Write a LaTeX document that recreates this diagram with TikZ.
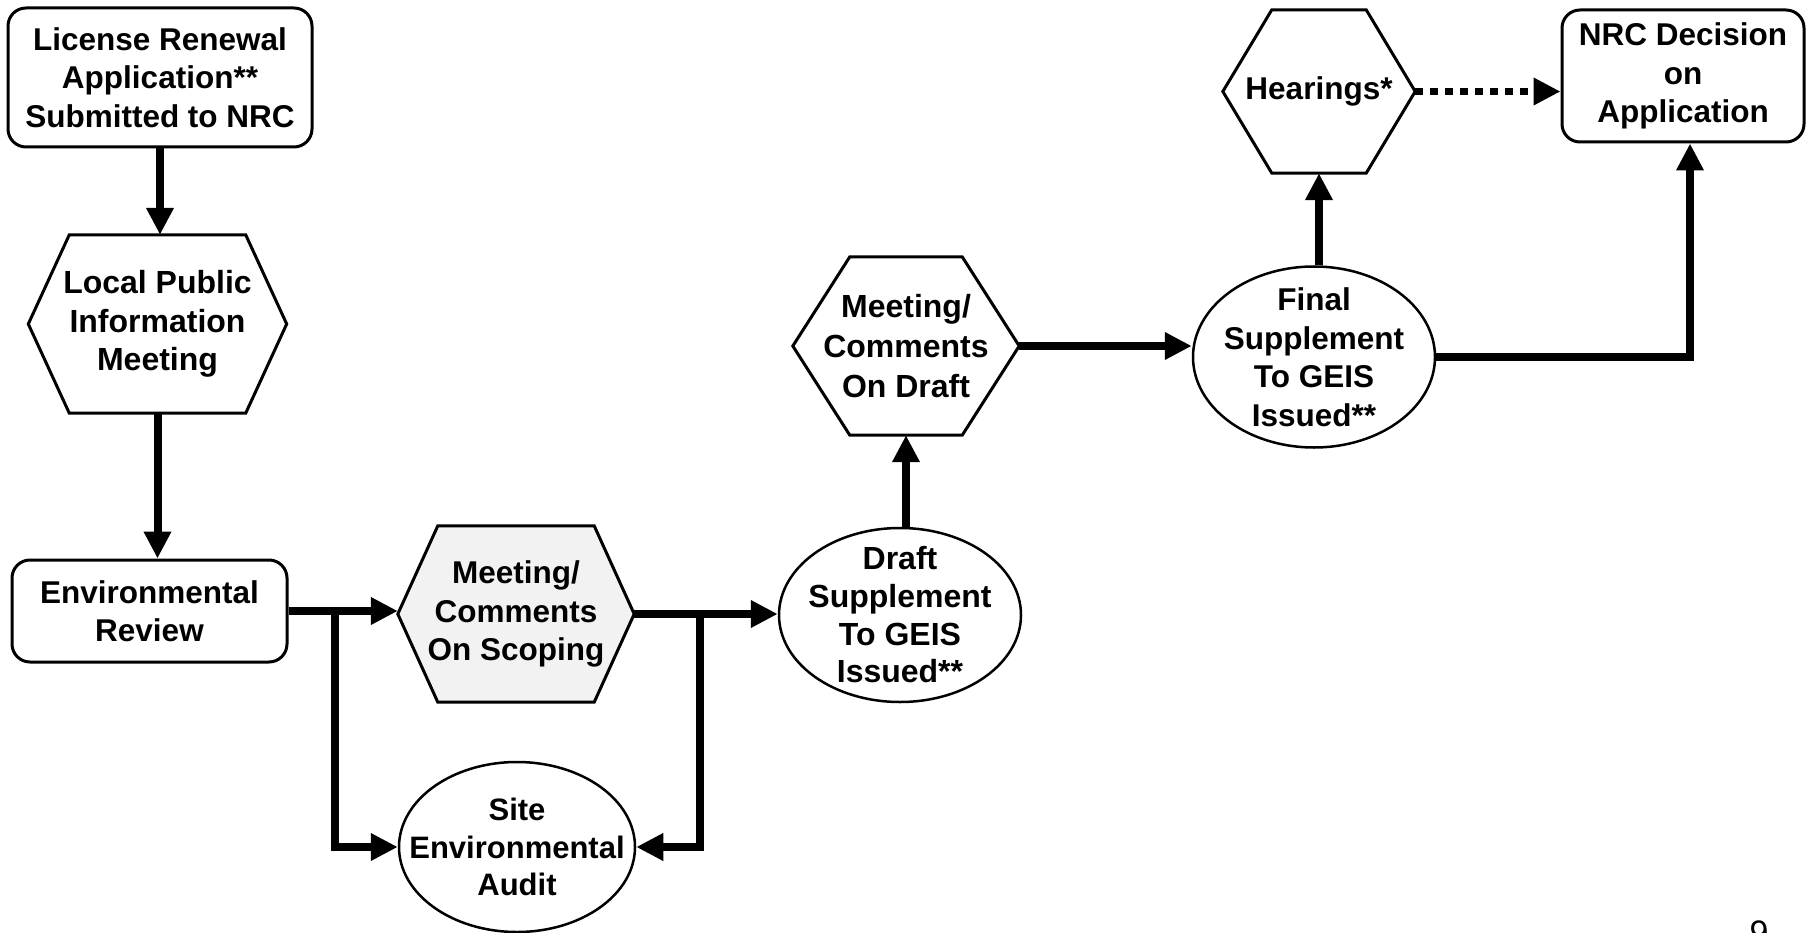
\documentclass[tikz,border=0pt]{standalone}
\usepackage{fontspec}
\setmainfont{Liberation Sans}
\usetikzlibrary{arrows.meta,calc,shapes.geometric,backgrounds}

\newcommand\hexagonof[3][]{%
  \draw[hexframe,#1] ($(#2.north west)+(#3,0)$) -- ($(#2.north east)+(-#3,0)$) -- (#2.east)
    -- ($(#2.south east)+(-#3,0)$) -- ($(#2.south west)+(#3,0)$) -- (#2.west) -- cycle;}

\tikzset{
  fsz/.style 2 args={font={\bfseries\fontsize{#1}{#2}\selectfont}},
  lbl/.style={align=center, inner sep=0pt},
  rbox/.style={draw, line width=3pt, rounded corners=18pt, inner sep=0pt, align=center},
  hexframe/.style={line width=3pt, line join=miter, draw},
  ell/.style={draw, ellipse, line width=2.5pt, inner sep=0pt},
  conn/.style={line width=8pt, line join=miter, -{Triangle[length=27pt,width=26pt]}},
  dotconn/.style={line width=7pt, dash pattern=on 8pt off 7pt, -{Triangle[length=27pt,width=26pt]}},
}

\begin{document}
\begin{tikzpicture}[x=1pt,y=-1pt]
\useasboundingbox (0,0) rectangle (1811,933);

% nodes
\node[rbox, fsz={31.5}{38.5}, minimum width=304pt, minimum height=139pt] (lic) at (160,77.5)
  {License Renewal\\Application**\\Submitted to NRC};
\node[lbl, fsz={32}{38.5}, minimum width=258pt, minimum height=178pt] (lpim) at (157.5,324)
  {Local Public\\Information\\Meeting};
\hexagonof{lpim}{41}
\node[rbox, fsz={31.5}{38.5}, minimum width=275pt, minimum height=102pt] (er) at (149.5,611)
  {Environmental\\Review};

\node[lbl, fsz={31.5}{38.5}, minimum width=236pt, minimum height=176pt] (scop) at (516,614)
  {Meeting/\\Comments\\On Scoping};
\begin{scope}[on background layer]
  \hexagonof[fill=black!5]{scop}{40}
\end{scope}

\node[ell, minimum width=236pt, minimum height=170pt] (site) at (517,847) {};
\node[lbl, fsz={31}{37.5}] (sitet) at (site.center) {Site\\Environmental\\Audit};

\node[ell, minimum width=242pt, minimum height=174pt] (draft) at (900,615) {};
\node[lbl, fsz={32}{37.7}] (draftt) at (draft.center) {Draft\\Supplement\\To GEIS\\Issued**};

\node[lbl, fsz={32}{40}, minimum width=226pt, minimum height=178pt] (mdraft) at (906,346)
  {Meeting/\\Comments\\On Draft};
\hexagonof{mdraft}{57}

\node[ell, minimum width=242pt, minimum height=181pt] (final) at (1314,357) {};
\node[lbl, fsz={31.5}{38.5}] (finalt) at (final.center) {Final\\Supplement\\To GEIS\\Issued**};

\node[lbl, fsz={31.5}{38.5}, minimum width=192pt, minimum height=163pt] (hear) at (1319,91.5) {Hearings*};
\hexagonof{hear}{49}

\node[rbox, fsz={31.5}{38.5}, minimum width=242pt, minimum height=132pt] (nrc) at (1683,76)
  {NRC Decision\\on\\Application};

\node[anchor=north, inner sep=0pt, font=\fontsize{34}{40}\selectfont] (pg) at (1759,921) {9};

% connectors
\coordinate (j1) at (335,0);
\coordinate (j2) at (700,0);
\draw[conn] (lic.south) -- (lic.south |- lpim.north);
\draw[conn] (lpim.south) -- (lpim.south |- er.north);
\draw[conn] (er.east) -- (er.east -| scop.west);
\draw[conn] (er.east -| j1) |- (site.west);
\draw[conn] (scop.east) -- (scop.east -| draft.west);
\draw[conn] (scop.east -| j2) |- (site.east);
\draw[conn] (draft.north -| mdraft.south) -- (mdraft.south);
\draw[conn] (mdraft.east) -- (mdraft.east -| final.west);
\draw[conn] (final.north -| hear.south) -- (hear.south);
\draw[dotconn] (hear.east) -- (hear.east -| nrc.west);
\draw[conn] (final.east) -| ($(nrc.south)+(7,0)$);
\end{tikzpicture}
\end{document}
